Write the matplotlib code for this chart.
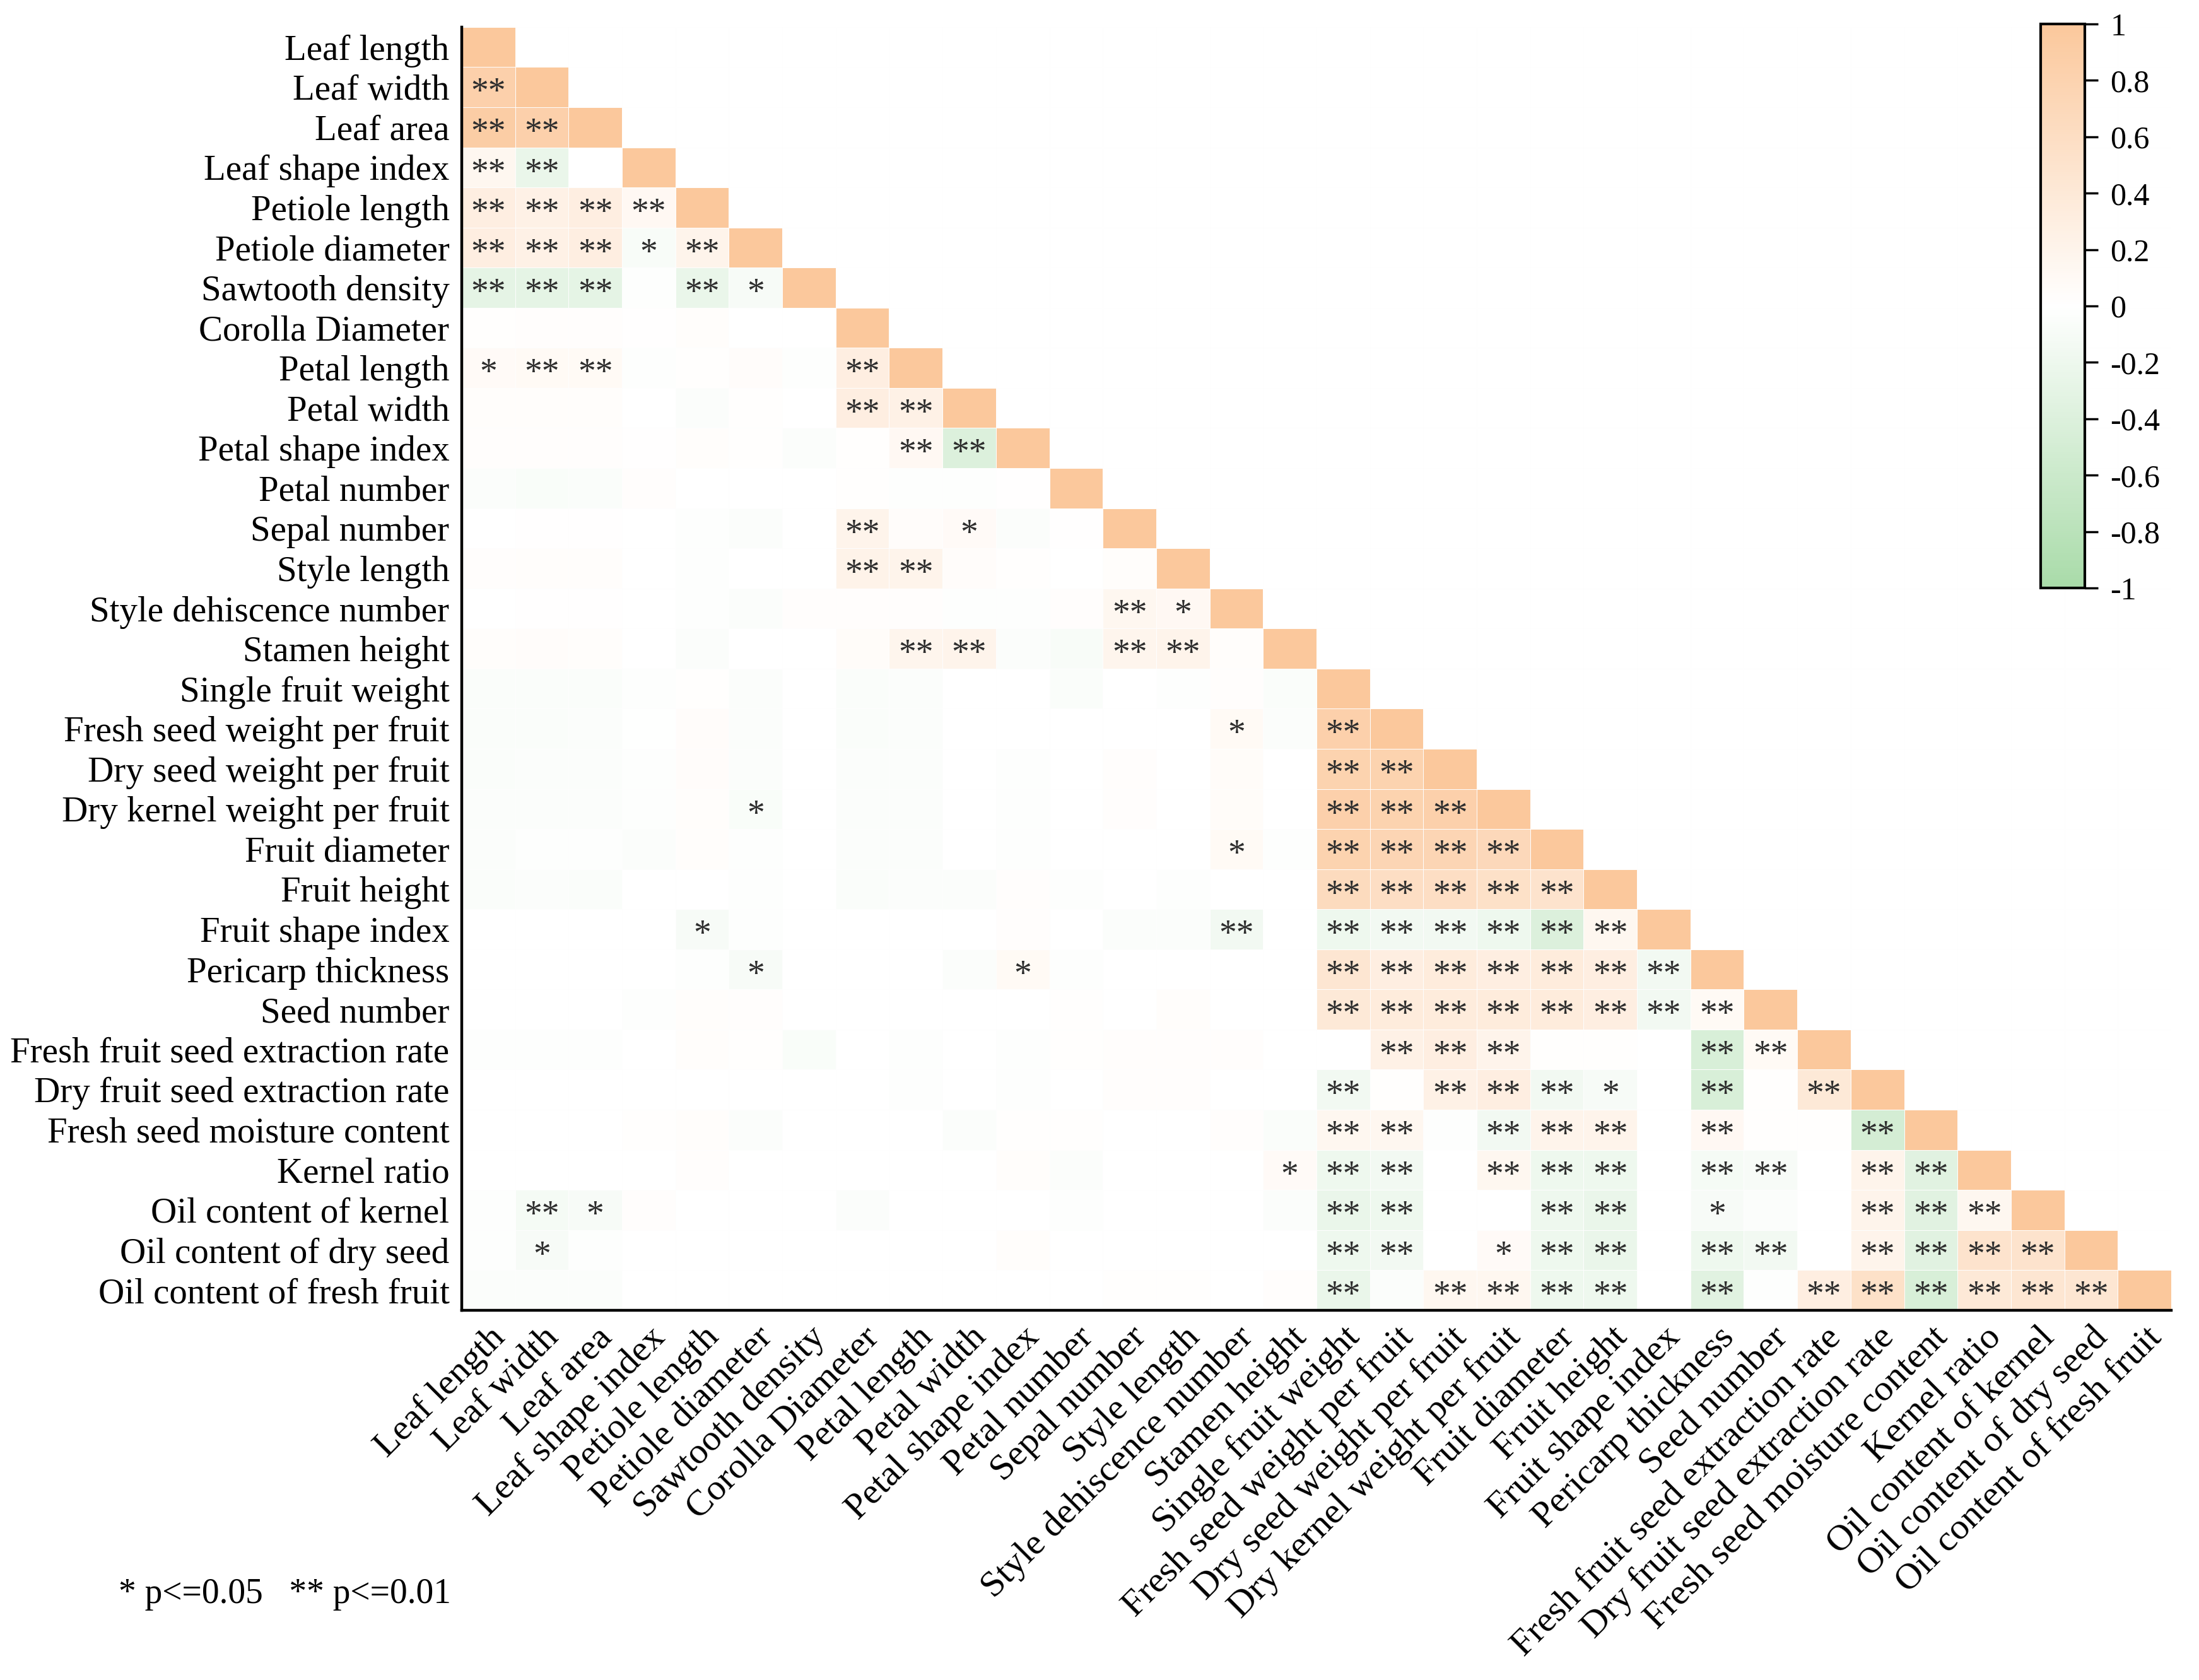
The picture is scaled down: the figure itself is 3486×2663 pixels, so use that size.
import numpy as np
import matplotlib
matplotlib.use("Agg")
import matplotlib.pyplot as plt
from matplotlib.colors import LinearSegmentedColormap
from matplotlib.ticker import FixedLocator, FixedFormatter

labels = ["Leaf length", "Leaf width", "Leaf area", "Leaf shape index", "Petiole length",
          "Petiole diameter", "Sawtooth density", "Corolla Diameter", "Petal length",
          "Petal width", "Petal shape index", "Petal number", "Sepal number", "Style length",
          "Style dehiscence number", "Stamen height", "Single fruit weight",
          "Fresh seed weight per fruit", "Dry seed weight per fruit", "Dry kernel weight per fruit",
          "Fruit diameter", "Fruit height", "Fruit shape index", "Pericarp thickness",
          "Seed number", "Fresh fruit seed extraction rate", "Dry fruit seed extraction rate",
          "Fresh seed moisture content", "Kernel ratio", "Oil content of kernel",
          "Oil content of dry seed", "Oil content of fresh fruit"]

# lower-triangle correlations, row i holds columns 0..i-1 (diagonal = 1)
r_rows = [
    [],
    [0.85],
    [0.9, 0.85],
    [0.15, -0.25, 0.0],
    [0.3, 0.25, 0.3, 0.12],
    [0.3, 0.25, 0.3, -0.08, 0.2],
    [-0.3, -0.3, -0.3, -0.02, -0.25, -0.1],
    [0.02, 0.03, 0.03, 0.01, 0.04, 0.0, 0.0],
    [0.08, 0.1, 0.1, -0.03, 0.02, 0.05, -0.03, 0.3],
    [0.04, 0.04, 0.04, 0.0, -0.04, 0.02, 0.0, 0.3, 0.25],
    [0.03, 0.03, 0.03, 0.01, 0.04, 0.02, -0.05, 0.02, 0.12, -0.4],
    [-0.05, -0.07, -0.06, 0.03, 0.0, 0.0, 0.0, 0.02, -0.03, -0.03, 0.01],
    [0.0, 0.01, 0.01, 0.0, -0.03, -0.05, 0.0, 0.2, 0.05, 0.08, -0.05, 0.01],
    [0.03, 0.04, 0.04, 0.0, -0.02, 0.0, 0.0, 0.22, 0.2, 0.05, 0.02, 0.0, 0.04],
    [0.0, 0.01, 0.01, 0.0, -0.02, -0.05, 0.03, 0.03, 0.03, -0.03, -0.02, 0.03, 0.15, 0.12],
    [0.04, 0.05, 0.04, 0.0, -0.04, 0.0, 0.0, 0.06, 0.18, 0.2, -0.05, -0.08, 0.18, 0.2, 0.04],
    [-0.06, -0.06, -0.06, -0.03, 0.02, -0.05, 0.0, -0.06,
     -0.05, 0.0, 0.0, -0.06, 0.0, -0.03, 0.03, -0.06],
    [-0.06, -0.06, -0.05, -0.01, 0.05, -0.05, 0.0, -0.06,
     -0.05, 0.0, 0.0, 0.0, 0.0, 0.0, 0.1, -0.05, 0.85],
    [-0.06, -0.05, -0.05, -0.02, 0.05, -0.04, 0.0, -0.05,
     -0.04, 0.0, -0.02, 0.0, 0.03, 0.0, 0.06, 0.0, 0.8, 0.8],
    [-0.05, -0.04, -0.04, -0.02, 0.04, -0.07, 0.0, -0.04,
     -0.04, 0.0, -0.03, 0.0, 0.03, 0.0, 0.06, 0.0, 0.85, 0.8, 0.85],
    [-0.04, -0.03, -0.03, -0.05, 0.04, -0.03, 0.0, -0.05,
     -0.04, 0.0, -0.02, 0.0, 0.0, 0.0, 0.1, -0.03, 0.8, 0.75, 0.75, 0.7],
    [-0.06, -0.05, -0.06, 0.0, 0.0, -0.03, 0.0, -0.06,
     -0.05, -0.05, 0.03, -0.03, 0.0, -0.03, 0.0, 0.0, 0.65, 0.6, 0.6, 0.55, 0.5],
    [0.0, 0.0, 0.0, 0.0, -0.1, -0.02, 0.0, 0.0,
     0.0, 0.0, 0.03, 0.0, -0.04, -0.04, -0.15, 0.0, -0.2, -0.15, -0.15, -0.2, -0.4, 0.15],
    [0.0, 0.0, 0.0, 0.0, -0.02, -0.1, 0.0, 0.0,
     0.0, -0.05, 0.1, -0.02, 0.0, 0.0, 0.0, 0.0, 0.45, 0.3, 0.35, 0.3, 0.35, 0.3, -0.15],
    [0.0, 0.0, 0.0, -0.02, 0.04, 0.03, 0.0, 0.0,
     0.0, 0.0, 0.0, 0.02, 0.0, 0.04, 0.0, 0.0, 0.4, 0.35, 0.35, 0.35, 0.35, 0.3, -0.15, 0.1],
    [-0.02, -0.02, -0.03, 0.0, 0.04, 0.02, -0.07, 0.0,
     -0.03, 0.0, -0.02, 0.02, 0.03, 0.03, 0.03, 0.0,
     0.0, 0.25, 0.3, 0.2, 0.02, 0.02, 0.0, -0.45, 0.1],
    [0.0, 0.0, 0.0, 0.0, 0.0, 0.0, 0.0, 0.0,
     -0.02, 0.0, -0.03, 0.0, 0.03, 0.03, 0.0, 0.0,
     -0.15, 0.02, 0.25, 0.3, -0.15, -0.1, 0.0, -0.45, 0.02, 0.4],
    [0.0, 0.0, 0.0, 0.02, 0.04, -0.04, 0.0, 0.0,
     0.0, -0.05, 0.02, 0.02, 0.0, 0.0, 0.03, -0.06,
     0.15, 0.15, -0.02, -0.15, 0.2, 0.2, 0.0, 0.12, 0.02, 0.02, -0.5],
    [0.0, 0.0, 0.0, 0.0, 0.03, 0.0, 0.0, 0.0,
     0.0, 0.0, 0.04, -0.04, 0.0, 0.0, 0.0, 0.08,
     -0.2, -0.15, 0.0, 0.15, -0.2, -0.2, 0.0, -0.12, -0.1, 0.0, 0.2, -0.35],
    [-0.03, -0.12, -0.1, 0.03, 0.0, 0.0, 0.0, -0.05,
     0.0, 0.0, 0.0, -0.03, 0.0, 0.0, 0.0, -0.05,
     -0.25, -0.2, 0.0, 0.0, -0.2, -0.25, 0.0, -0.1, -0.05, 0.0, 0.2, -0.35, 0.15],
    [-0.03, -0.1, -0.03, 0.0, 0.0, 0.0, 0.0, 0.0,
     0.0, 0.0, 0.04, 0.0, 0.0, 0.0, 0.0, 0.0,
     -0.2, -0.15, 0.0, 0.08, -0.2, -0.25, 0.0, -0.2, -0.15, 0.0, 0.2, -0.35, 0.5, 0.5],
    [-0.04, -0.04, -0.04, 0.0, 0.0, 0.0, 0.0, 0.0,
     0.0, 0.0, 0.0, 0.0, 0.02, 0.02, 0.0, 0.03,
     -0.25, -0.05, 0.15, 0.15, -0.2, -0.2, 0.0, -0.35, -0.02, 0.3, 0.55, -0.45, 0.4, 0.45, 0.45],
]

# significance per lower-triangle cell: '.' none, '1' p<=0.05, '2' p<=0.01
sig_rows = [
    "",
    "2",
    "22",
    "22.",
    "2222",
    "22212",
    "222.21",
    ".......",
    "122....2",
    ".......22",
    "........22",
    "...........",
    ".......2.1..",
    ".......22....",
    "............21",
    "........22..22.",
    "................",
    "..............1.2",
    "................22",
    ".....1..........222",
    "..............1.2222",
    "................22222",
    "....1.........2.222222",
    ".....1....1.....2222222",
    "................22222222",
    ".................222...22",
    "................2.2221.2.2",
    "................22.222.2..2",
    "...............122.222.22.22",
    ".21.............22..22.1..222",
    ".1..............22.122.22.2222",
    "................2.2222.2.222222",
]

cbar_ticks = [1, 0.8, 0.6, 0.4, 0.2, 0, -0.2, -0.4, -0.6, -0.8, -1]
cbar_ticklabels = ["1", "0.8", "0.6", "0.4", "0.2", "0", "-0.2", "-0.4", "-0.6", "-0.8", "-1"]
footnote = "* p<=0.05   ** p<=0.01"

plt.rcParams['font.family'] = ['Liberation Serif', 'DejaVu Serif']

n = len(labels)
M = np.full((n, n), np.nan)
for i, row in enumerate(r_rows):
    for j, v in enumerate(row):
        M[i, j] = v
    M[i, i] = 1.0
Mm = np.ma.masked_invalid(M)

cmap = LinearSegmentedColormap.from_list("gw_or", ["#A9DBA9", "#FFFFFF", "#FBC89C"])

fig = plt.figure(figsize=(34.87, 26.63), dpi=100)
ax = fig.add_axes([0.2099, 0.2201, 0.7772, 0.7638])
mesh = ax.pcolormesh(np.arange(n + 1), np.arange(n + 1), Mm, cmap=cmap, vmin=-1, vmax=1,
                     edgecolors="#fdfdfd", linewidth=0.7)
ax.set_xlim(0, n)
ax.set_ylim(n, 0)

star_map = {"1": "*", "2": "**"}
for i, s in enumerate(sig_rows):
    for j, c in enumerate(s):
        if c in star_map:
            ax.text(j + 0.5, i + 0.66, star_map[c], ha="center", va="center",
                    fontsize=40, color="#2e2e2e")

ax.set_xticks(np.arange(n) + 0.5)
ax.set_yticks(np.arange(n) + 0.5)
ax.set_xticklabels(labels, rotation=45, ha="right", va="top", rotation_mode="anchor",
                   fontsize=42)
ax.set_yticklabels(labels, fontsize=41)
ax.tick_params(axis="both", length=0)
ax.tick_params(axis="y", pad=14)
ax.tick_params(axis="x", pad=12)
for side in ["top", "right"]:
    ax.spines[side].set_visible(False)
for side in ["left", "bottom"]:
    ax.spines[side].set_linewidth(3.2)

cax = fig.add_axes([0.9277, 0.650, 0.0201, 0.3357])
cb = fig.colorbar(mesh, cax=cax)
cb.outline.set_linewidth(3)
cax.yaxis.set_major_locator(FixedLocator(cbar_ticks))
cax.yaxis.set_major_formatter(FixedFormatter(cbar_ticklabels))
cax.tick_params(axis="y", length=15, width=2.5, labelsize=36, pad=14, direction="out")

fig.text(0.054, 0.051, footnote, fontsize=40, ha="left", va="center")

fig.savefig("out.png", dpi=100)
